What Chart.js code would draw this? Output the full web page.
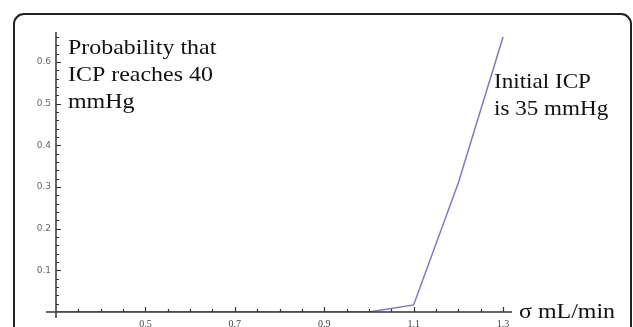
<!DOCTYPE html>
<html>
<head>
<meta charset="utf-8">
<script src="https://cdn.jsdelivr.net/npm/chart.js@4/dist/chart.umd.min.js"></script>
<style>
html,body{margin:0;padding:0;background:#fff;}
#wrap{position:relative;width:633px;height:327px;overflow:hidden;}
#frame{position:absolute;left:13px;top:13px;width:619px;height:400px;border:2px solid #222;border-radius:11px;box-sizing:border-box;}
canvas{position:absolute;left:0;top:0;}
</style>
</head>
<body>
<div id="wrap">
<div id="frame"></div>
<canvas id="c" width="633" height="327"></canvas>
</div>
<script>
// Data
const sigma = [0.3, 0.4, 0.5, 0.6, 0.7, 0.8, 0.9, 1.0, 1.1, 1.2, 1.3];
const probability = [0, 0, 0, 0, 0, 0, 0, 0, 0.017, 0.31, 0.66];
const xMajorTicks = [0.5, 0.7, 0.9, 1.1, 1.3];
const xTickLabels = ["0.5", "0.7", "0.9", "1.1", "1.3"];
const yMajorTicks = [0.1, 0.2, 0.3, 0.4, 0.5, 0.6];
const yTickLabels = ["0.1", "0.2", "0.3", "0.4", "0.5", "0.6"];
const yTitleLines = ["Probability that", "ICP reaches 40", "mmHg"];
const noteLines = ["Initial ICP", "is 35 mmHg"];
const xTitle = "\u03c3 mL/min";

function wideText(ctx, s, x, y, sx) {
  ctx.save();
  ctx.translate(x, y);
  ctx.scale(sx, 1);
  ctx.fillText(s, 0, 0);
  ctx.restore();
}

const axisPlugin = {
  id: 'mmaAxes',
  afterDatasetsDraw(chart) {
    const ctx = chart.ctx;
    const xs = chart.scales.x, ys = chart.scales.y;
    const x0 = xs.getPixelForValue(0.3), y0 = ys.getPixelForValue(0);
    const xEnd = xs.getPixelForValue(xs.max), yTop = ys.getPixelForValue(ys.max);
    ctx.save();
    ctx.strokeStyle = '#333';
    ctx.lineWidth = 1.5;
    ctx.beginPath();
    ctx.moveTo(x0 - 10, y0); ctx.lineTo(xEnd, y0);
    ctx.moveTo(x0, y0 + 6); ctx.lineTo(x0, yTop);
    ctx.stroke();
    // x ticks
    ctx.lineWidth = 1.2;
    ctx.beginPath();
    for (let i = 7; i <= 26; i++) {
      const v = i * 0.05;
      const px = Math.round(xs.getPixelForValue(v)) + 0.5;
      const major = xMajorTicks.some(t => Math.abs(t - v) < 1e-6);
      ctx.moveTo(px, y0); ctx.lineTo(px, y0 - (major ? 5 : 3));
    }
    for (let i = 1; i <= 33; i++) {
      const v = i * 0.02;
      const py = Math.round(ys.getPixelForValue(v)) + 0.5;
      const major = yMajorTicks.some(t => Math.abs(t - v) < 1e-6);
      ctx.moveTo(x0, py); ctx.lineTo(x0 + (major ? 5 : 3), py);
    }
    ctx.stroke();
    // tick labels
    ctx.fillStyle = '#444';
    ctx.font = '10px "Liberation Serif"';
    ctx.textAlign = 'center';
    ctx.textBaseline = 'top';
    xMajorTicks.forEach((t, i) => ctx.fillText(xTickLabels[i], xs.getPixelForValue(t), y0 + 7));
    ctx.fillStyle = '#666';
    ctx.font = '9px "DejaVu Sans"';
    ctx.textAlign = 'right';
    ctx.textBaseline = 'middle';
    yMajorTicks.forEach((t, i) => ctx.fillText(yTickLabels[i], x0 - 5, ys.getPixelForValue(t)));
    // titles
    ctx.fillStyle = '#111';
    ctx.font = '21px "Liberation Serif"';
    ctx.textAlign = 'left';
    ctx.textBaseline = 'alphabetic';
    yTitleLines.forEach((s, i) => wideText(ctx, s, 68, 54 + i * 27, 1.14));
    noteLines.forEach((s, i) => wideText(ctx, s, 494, 88 + i * 26.5, 1.1));
    wideText(ctx, xTitle, 519, 318, 1.14);
    ctx.restore();
  }
};

new Chart(document.getElementById('c'), {
  type: 'line',
  data: {
    datasets: [{
      data: sigma.map((s, i) => ({x: s, y: probability[i]})),
      borderColor: '#7b7bc4',
      borderWidth: 1.5,
      pointRadius: 0,
      tension: 0,
      fill: false
    }]
  },
  options: {
    responsive: false,
    devicePixelRatio: 1,
    animation: false,
    layout: { padding: { left: 56, right: 121, top: 32, bottom: 15 } },
    plugins: { legend: { display: false }, tooltip: { enabled: false } },
    scales: {
      x: { type: 'linear', min: 0.3, max: 1.32, display: false },
      y: { type: 'linear', min: 0, max: 0.672, display: false }
    }
  },
  plugins: [axisPlugin]
});
</script>
</body>
</html>
